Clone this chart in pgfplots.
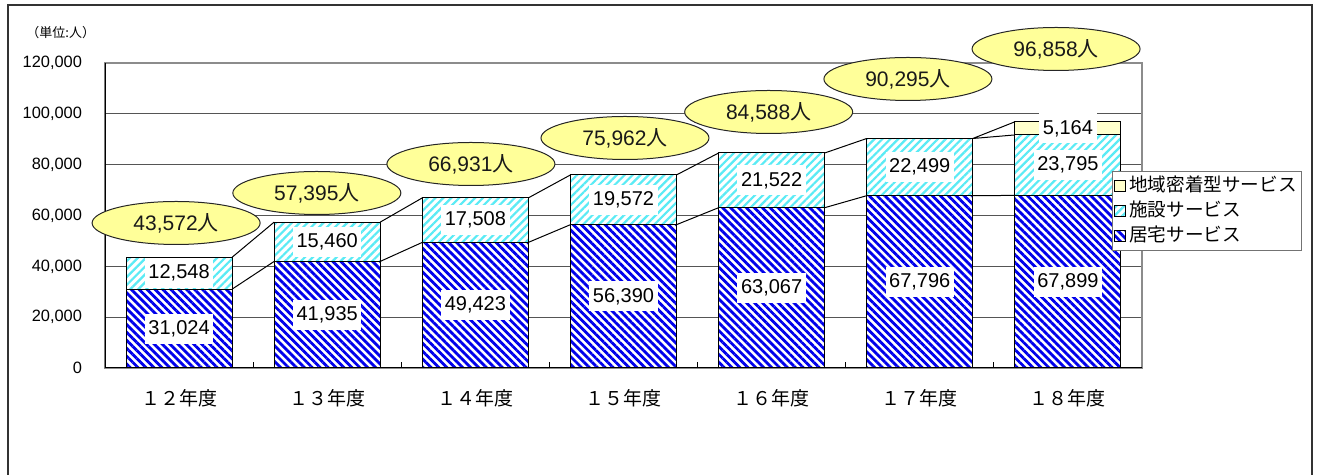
\documentclass[border=0pt]{standalone}
\usepackage{fontspec}
\setmainfont{Liberation Sans}
\newfontfamily\jp{Noto Sans CJK JP}
\usepackage{pgfplots}
\pgfplotsset{compat=1.18}
\usetikzlibrary{patterns,patterns.meta,shapes.geometric}
\definecolor{kyotaku}{RGB}{0,0,235}
\definecolor{shisetsu}{RGB}{90,235,245}
\definecolor{chiiki}{RGB}{255,255,204}
\definecolor{ellfill}{RGB}{255,255,153}
\definecolor{gridc}{RGB}{85,85,85}

\begin{document}
\begin{tikzpicture}
\useasboundingbox (0,0) rectangle (659.5pt,237.5pt);
\draw[line width=1pt, black!80] (4pt,-5pt) -- (4pt,235pt) -- (656pt,235pt) -- (656pt,-5pt);
\node[anchor=west, inner sep=0pt, font=\jp\fontsize{6.5}{7}\selectfont] at (13pt,221pt) {（単位:人）};

\begin{axis}[
  at={(52.5pt,53.5pt)}, anchor=south west,
  scale only axis, width=518.5pt, height=152.5pt,
  ybar stacked, bar width=0.716,
  xmin=-0.5, xmax=6.5, ymin=0, ymax=120000,
  ytick={0,20000,...,120000},
  scaled y ticks=false,
  yticklabel style={/pgf/number format/fixed, /pgf/number format/1000 sep={,}, /pgf/number format/assume math mode=true,
    font=\fontsize{8.2}{9}\selectfont, xshift=-8pt},
  xtick={0,...,6},
  xticklabels={１２年度,１３年度,１４年度,１５年度,１６年度,１７年度,１８年度},
  xticklabel style={font=\jp\fontsize{9.5}{10}\selectfont, yshift=-7pt},
  major tick length=0pt,
  minor xtick={0.5,1.5,...,5.5},
  minor tick length=3pt,
  xtick pos=bottom, ytick pos=left,
  ymajorgrids=true,
  grid style={gridc, line width=0.5pt},
  axis line style={black!45, line width=0.6pt},
  minor tick style={black, line width=0.5pt},
  legend style={at={(0.971,0.646)}, anchor=north west, draw=black!55, fill=white,
    font=\jp\fontsize{9.3}{10}\selectfont, row sep=0pt, inner sep=1pt,
    nodes={inner sep=1.5pt, text height=7.5pt, text depth=2pt}},
  legend cell align=left,
  reverse legend=true,
  legend image code/.code={\draw[#1] (0pt,-2.6pt) rectangle (5.5pt,2.9pt);},
]
\addplot[fill=white, draw=black, line width=0.5pt,
  postaction={pattern={Lines[angle=-45,distance=2.8pt,line width=1.4pt]}, pattern color=kyotaku}]
  coordinates {(0,31024) (1,41935) (2,49423) (3,56390) (4,63067) (5,67796) (6,67899)};
\addlegendentry{居宅サービス}
\addplot[fill=white, draw=black, line width=0.5pt,
  postaction={pattern={Lines[angle=45,distance=2.8pt,line width=1.1pt]}, pattern color=shisetsu}]
  coordinates {(0,12548) (1,15460) (2,17508) (3,19572) (4,21522) (5,22499) (6,23795)};
\addlegendentry{施設サービス}
\addplot[fill=chiiki, draw=black, line width=0.5pt]
  coordinates {(0,0) (1,0) (2,0) (3,0) (4,0) (5,0) (6,5164)};
\addlegendentry{地域密着型サービス}
\draw[black, line width=0.6pt] (rel axis cs:0,1) -- (rel axis cs:0,0) -- (rel axis cs:1,0);
\end{axis}

\begin{axis}[
  at={(52.5pt,53.5pt)}, anchor=south west,
  scale only axis, width=518.5pt, height=152.5pt,
  xmin=-0.5, xmax=6.5, ymin=0, ymax=120000,
  hide axis, clip=false,
]
% series lines
\addplot[black, line width=0.5pt, unbounded coords=jump] coordinates {
  (0.358,31024) (0.642,41935) (1,nan)
  (1.358,41935) (1.642,49423) (2,nan)
  (2.358,49423) (2.642,56390) (3,nan)
  (3.358,56390) (3.642,63067) (4,nan)
  (4.358,63067) (4.642,67796) (5,nan)
  (5.358,67796) (5.642,67899) (6,nan)
  (0.358,43572) (0.642,57395) (1,nan)
  (1.358,57395) (1.642,66931) (2,nan)
  (2.358,66931) (2.642,75962) (3,nan)
  (3.358,75962) (3.642,84588) (4,nan)
  (4.358,84588) (4.642,90295) (5,nan)
  (5.358,90295) (5.642,91694) (6,nan)
  (5.358,90295) (5.642,96858)
};
% value labels
\addplot[draw=none, mark=none, point meta=explicit symbolic,
  nodes near coords,
  every node near coord/.style={anchor=center, fill=white, text=black,
    inner xsep=1.8pt, inner ysep=3pt, text height=7.4pt, text depth=1.6pt,
    font=\fontsize{10}{11}\selectfont}]
  table[meta=label] {
x y label
0 15512 31,024
1 20967.5 41,935
2 24711.5 49,423
3 28195 56,390
4 31533.5 63,067
5 33898 67,796
6 33949.5 67,899
0 37298 12,548
1 49665 15,460
2 58177 17,508
3 66176 19,572
4 73828 21,522
5 79045.5 22,499
6 79796.5 23,795
6 94276 5,164
};
% total ellipses
\addplot[draw=none, mark=none, point meta=explicit symbolic,
  nodes near coords={\pgfplotspointmeta{\jp 人}},
  every node near coord/.style={anchor=center, ellipse, draw=black!85, line width=0.5pt,
    fill=ellfill, text=black!90, minimum width=84pt, minimum height=21.5pt, inner sep=0pt,
    font=\fontsize{10.5}{11}\selectfont}]
  table[meta=label] {
x y label
-0.02 57049 43,572
0.93 68852 57,395
1.97 80262 66,931
3.01 90492 75,962
3.98 100721 84,588
4.92 113705 90,295
5.92 125508 96,858
};
\end{axis}
\end{tikzpicture}
\end{document}
